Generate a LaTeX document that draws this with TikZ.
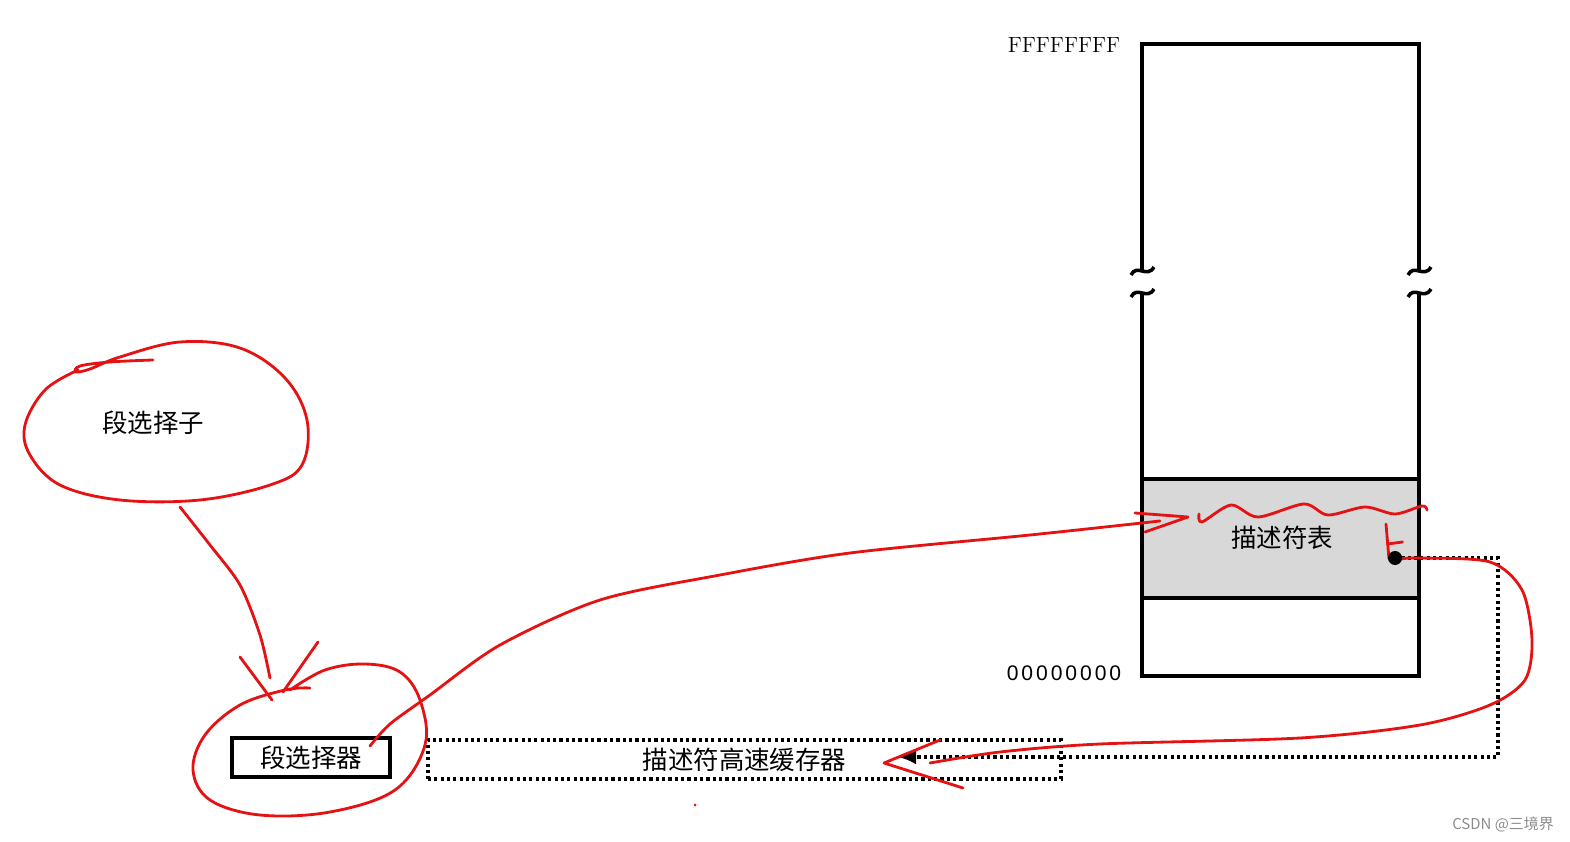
\documentclass[tikz,border=0pt]{standalone}
\usepackage{fontspec}
\newfontfamily\cjk{Noto Sans CJK SC}
\newfontfamily\digitfont[LetterSpace=14]{Liberation Sans}
\usetikzlibrary{arrows.meta,positioning}
\definecolor{penred}{RGB}{228,18,18}
\definecolor{tablegray}{RGB}{216,216,216}
\definecolor{markgray}{RGB}{140,140,140}

\begin{document}
\begin{tikzpicture}[
  wall/.style={line width=2pt},
  lab/.style={font=\cjk\fontsize{14.5}{16}\selectfont,inner sep=0pt},
  addr/.style={inner sep=0pt,font=\fontsize{11.5}{13}\selectfont},
  dotline/.style={line width=2pt,dash pattern=on 1.8pt off 1.8pt},
  selbox/.style={lab,draw,line width=2pt,minimum width=3.16cm,minimum height=0.78cm},
  cachebox/.style={lab,draw,dotline,minimum width=12.66cm,minimum height=0.78cm},
  pen/.style={penred,line width=1.6pt,line cap=round,line join=round}
]
\useasboundingbox (0,0) rectangle (31.4,16.82);
% memory column
\fill[tablegray] (22.84,7.24) rectangle (28.38,4.86);
\node[lab] (desc) at (25.64,6.06) {描述符表};
\draw[wall] (22.84,11.40) -- (22.84,15.94) -- (28.38,15.94) -- (28.38,11.40);
\draw[wall] (22.84,10.96) -- (22.84,3.30) -- (28.38,3.30) -- (28.38,10.96);
\draw[wall] (22.84,7.24) -- (28.38,7.24) (22.84,4.86) -- (28.38,4.86);
\foreach \x in {22.84,28.38}
  \foreach \y in {11.40,10.96}
    \draw[wall] (\x-0.22,\y-0.08) .. controls (\x-0.1,\y+0.16) and (\x+0.1,\y-0.16) .. (\x+0.24,\y+0.08);
\node[addr,font=\fontsize{12.5}{14}\selectfont\addfontfeatures{LetterSpace=14}] (high) at (21.28,15.92) {FFFFFFFF};
\node[addr,font=\digitfont\fontsize{12}{14}\selectfont] (low) at (21.28,3.36) {00000000};
% selector and cache
\node[lab] (selector) at (3.06,8.36) {段选择子};
\node[selbox] (sel) at (6.22,1.67) {段选择器};
\node[cachebox] (cache) at (14.89,1.63) {描述符高速缓存器};
\coordinate (dot) at (27.9,5.66);
\coordinate (tip) at (17.96,1.68);
\draw[dotline,-{Latex[length=0.36cm,width=0.3cm]}] (dot) -- ++(2.06,0) |- (tip);
% red annotations
\draw[pen] plot[smooth,tension=0.6] coordinates {(3.06,9.62) (2.20,9.58) (1.60,9.50) (1.52,9.38) (1.80,9.44)
  (2.40,9.68) (3.60,9.98) (4.80,9.86) (5.70,9.26) (6.14,8.42) (6.04,7.52) (5.40,7.12) (4.00,6.82)
  (2.40,6.82) (1.20,7.12) (0.60,7.72) (0.50,8.32) (0.90,9.02) (1.56,9.42)};
\draw[pen] plot[smooth] coordinates {(3.60,6.68) (4.20,5.92) (4.80,5.12) (5.20,4.12) (5.40,3.26)};
\draw[pen] (4.80,3.68) -- (5.44,2.82);
\draw[pen] (6.36,3.98) -- (5.66,2.98);
\draw[pen] plot[smooth,tension=0.6] coordinates {(6.20,3.06) (5.70,3.02) (4.80,2.72) (4.10,2.12) (3.86,1.42)
  (4.20,0.82) (5.20,0.52) (6.60,0.58) (7.90,1.02) (8.50,1.92) (8.40,2.82) (8.00,3.38) (7.30,3.54)
  (6.50,3.42) (5.80,3.02)};
\draw[pen] plot[smooth] coordinates {(7.40,1.90) (7.80,2.34) (8.60,2.92) (10.0,3.92) (12.0,4.82)
  (14.4,5.32) (17.0,5.76) (20.6,6.12) (23.2,6.40)};
\draw[pen] (22.70,6.56) -- (23.76,6.48) -- (22.90,6.18);
\draw[pen] plot[smooth] coordinates {(23.98,6.54) (24.04,6.38) (24.62,6.72) (25.16,6.48) (26.08,6.74)
  (26.56,6.52) (27.30,6.68) (27.90,6.54) (28.44,6.70) (28.54,6.62)};
\draw[pen] (27.72,6.34) -- (27.78,5.64);
\draw[pen] (27.75,5.94) -- (28.05,5.98);
\draw[pen] plot[smooth] coordinates {(28.02,5.64) (28.40,5.66) (29.80,5.58) (30.44,5.02) (30.64,4.02)
  (30.50,3.22) (29.80,2.72) (28.40,2.32) (26.0,2.06) (22.0,1.94) (20.0,1.78) (18.60,1.56)};
\draw[pen] (18.80,2.02) -- (17.68,1.56) -- (19.26,1.06);
\fill[penred] (13.90,0.72) circle (0.03);
\fill (dot) circle (0.14);
\node[inner sep=0pt,text=markgray,font=\cjk\fontsize{8.5}{10}\selectfont] (mark) at (30.06,0.34) {CSDN @三境界};
\end{tikzpicture}
\end{document}
